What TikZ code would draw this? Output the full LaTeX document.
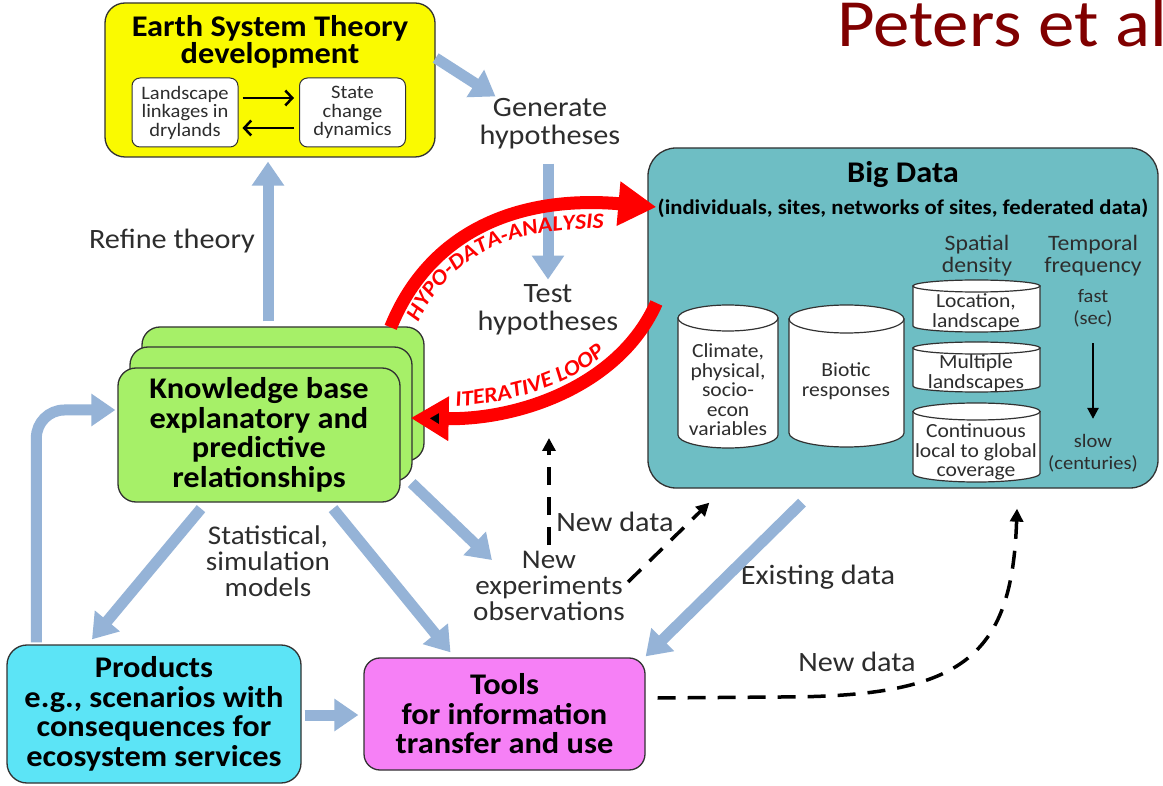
\documentclass[tikz,border=0pt]{standalone}
\usepackage{fontspec}
\setmainfont{Carlito}[FakeStretch=1.08]
\usetikzlibrary{arrows.meta,decorations.text,calc}

\definecolor{ylw}{RGB}{250,250,0}
\definecolor{bdteal}{RGB}{110,190,196}
\definecolor{kbgreen}{RGB}{166,240,104}
\definecolor{prodcyan}{RGB}{92,228,246}
\definecolor{toolpink}{RGB}{246,128,246}
\definecolor{flowblue}{RGB}{149,179,215}
\definecolor{loopred}{RGB}{255,0,0}
\definecolor{authred}{RGB}{128,0,0}
\definecolor{edge}{RGB}{50,50,50}
\definecolor{labelgray}{RGB}{45,45,45}

\newcommand\loopfont{\bfseries\itshape\fontsize{22}{22}\selectfont}

% drum (cylinder) outline: left, right, top, bottom, half height of the end ellipse
\newcommand\drawdrum[5]{%
  \pgfmathsetmacro\drumcx{(#1+#2)/2}%
  \pgfmathsetmacro\drumrx{(#2-#1)/2}%
  \filldraw[drum] (#1,#3+#5) -- (#1,#4-#5)
     .. controls (#1,#4-#5+0.5523*#5) and (\drumcx-0.5523*\drumrx,#4) .. (\drumcx,#4)
     .. controls (\drumcx+0.5523*\drumrx,#4) and (#2,#4-#5+0.5523*#5) .. (#2,#4-#5)
     -- (#2,#3+#5) -- cycle;
  \filldraw[drum] (\drumcx,#3+#5) ellipse [x radius=\drumrx, y radius=#5];
}

\tikzset{
  box/.style={draw=edge, line width=1.3pt, inner sep=0pt, align=center},
  flow/.style={draw=flowblue, line width=11pt, -{Triangle[length=24pt,width=31pt]}},
  loop/.style={draw=loopred, line width=13pt, -{Triangle[length=38pt,width=42pt]}},
  newdata/.style={draw=black, line width=3.5pt, dash pattern=on 18pt off 12pt,
                  -{Triangle[length=13pt,width=13pt]}},
  pairarrow/.style={draw=black, line width=2.5pt, -{Straight Barb[length=7pt,width=15pt]}},
  lbl/.style={text=labelgray, align=center, inner sep=0pt, font=\fontsize{28}{28}\selectfont},
  drum/.style={draw=edge, fill=white, line width=1.2pt},
  cyltext/.style={align=center, inner sep=0pt, text=labelgray, font=\fontsize{20}{19.5}\selectfont},
}

\begin{document}
\begin{tikzpicture}[x=1pt,y=-1pt]
\useasboundingbox (0,0) rectangle (1163,786);
\fill[white] (0,0) rectangle (1163,786);

% author tag
\node[anchor=base west, text=authred, inner sep=0pt, font=\fontsize{67.5}{67.5}\selectfont]
  (cite) at (837,47) {Peters et al};

% Earth system theory box
\node[box, fill=ylw, rounded corners=20pt, minimum width=330pt, minimum height=154pt] (est) at (270,80) {};
\node[align=center, inner sep=0pt, font=\bfseries\fontsize{30}{27}\selectfont] (esttitle) at (270,42)
  {Earth System Theory\\development};
\node[box, fill=white, line width=1pt, rounded corners=8pt, minimum width=106pt, minimum height=69pt,
      text=labelgray, font=\fontsize{19}{18.5}\selectfont] (lsl) at (185,112.5) {Landscape\\linkages in\\drylands};
\node[box, fill=white, line width=1pt, rounded corners=8pt, minimum width=106pt, minimum height=69pt,
      text=labelgray, font=\fontsize{19}{18.5}\selectfont] (scd) at (352.5,112.5) {State\\change\\dynamics};
\draw[pairarrow] ([xshift=4pt,yshift=14.5pt]lsl.east) -- ([xshift=-5pt,yshift=14.5pt]scd.west);
\draw[pairarrow] ([xshift=-5pt,yshift=-15.5pt]scd.west) -- ([xshift=4pt,yshift=-15.5pt]lsl.east);

% Big Data box
\node[box, fill=bdteal, rounded corners=28pt, minimum width=510pt, minimum height=340pt] (bigdata) at (903,318) {};
\node[inner sep=0pt, font=\bfseries\fontsize{30}{30}\selectfont] (bdtitle) at (903,175) {Big Data};
\node[inner sep=0pt, font=\bfseries\fontsize{21}{21}\selectfont] (bdsub) at (903,208)
  {(individuals, sites, networks of sites, federated data)};
\node[cyltext, font=\fontsize{22}{22}\selectfont] (spatial) at (977,256) {Spatial\\density};
\node[cyltext, font=\fontsize{22}{22}\selectfont] (temporal) at (1093,256) {Temporal\\frequency};

\drawdrum{678}{778}{305}{448}{13}
\drawdrum{789}{904}{305}{447}{14}
\drawdrum{913}{1040}{280}{332}{6}
\drawdrum{913}{1040}{342}{392}{6}
\drawdrum{913}{1040}{403}{482}{8.5}
\node[cyltext] (clim) at (728,390) {Climate,\\physical,\\socio-\\econ\\variables};
\node[cyltext] (biotic) at (846,381) {Biotic\\responses};
\node[cyltext] (loc) at (976,312) {Location,\\landscape};
\node[cyltext] (multi) at (976,373) {Multiple\\landscapes};
\node[cyltext] (cont) at (976,452) {Continuous\\local to global\\coverage};
\node[cyltext, font=\fontsize{19}{22}\selectfont] (fast) at (1093,308) {fast\\(sec)};
\node[cyltext, font=\fontsize{19}{22}\selectfont] (slow) at (1093,453) {slow\\(centuries)};
\draw[draw=black, line width=2.5pt, -{Triangle[length=11pt,width=11pt]}]
  ($(fast.south)+(0,16)$) -- ($(slow.north)+(0,-15)$);

% knowledge base stack
\node[box, fill=kbgreen, rounded corners=18pt, minimum width=282pt, minimum height=134pt] (kbback) at (283,394) {};
\node[box, fill=kbgreen, rounded corners=18pt, minimum width=282pt, minimum height=134pt] (kbmid) at (271,414) {};
\node[box, fill=kbgreen, rounded corners=18pt, minimum width=282pt, minimum height=134pt,
      font=\bfseries\fontsize{30}{29.5}\selectfont] (kb) at (259,435)
  {Knowledge base\\explanatory and\\predictive\\relationships};

% products and tools
\node[box, fill=prodcyan, rounded corners=20pt, minimum width=294pt, minimum height=138pt,
      font=\bfseries\fontsize{30}{29.5}\selectfont] (products) at (154,714)
  {Products\\e.g., scenarios with\\consequences for\\ecosystem services};
\node[box, fill=toolpink, rounded corners=16pt, minimum width=281pt, minimum height=112pt,
      font=\bfseries\fontsize{30}{29.5}\selectfont] (tools) at (504.5,714)
  {Tools\\for information\\transfer and use};

% free labels
\node[lbl] (gen) at (550,124) {Generate\\hypotheses};
\node[lbl] (test) at (548,310) {Test\\hypotheses};
\node[lbl] (refine) at (172,241) {Refine theory};
\node[lbl, font=\fontsize{27}{26}\selectfont] (stat) at (268,561) {Statistical,\\simulation\\models};
\node[lbl, font=\fontsize{27}{26}\selectfont] (newexp) at (549,586) {New\\experiments\\observations};
\node[lbl] (nd1) at (615,522) {New data};
\node[lbl] (exist) at (818,577) {Existing data};
\node[lbl] (nd2) at (857,662) {New data};
\coordinate (testlink) at (549,438);

% blue flows
\draw[flow] ([yshift=22pt]est.east) -- ($(gen.north west)+(16,-2)$);
\draw[flow] ($(gen.south)+(-2,14)$) -- ($(test.north)+(0,-5)$);
\draw[flow] ($(kbback.north)+(-15,-5)$) -- ($(est.south)+(-2,4)$);
\draw[flow, rounded corners=28pt] ($(products.north west)+(30,-2)$) |- ($(kb.west)+(-2,-25)$);
\draw[flow] ($(kb.south)+(-58,6)$) -- ($(products.north)+(-62,-5)$);
\draw[flow] ($(kb.south)+(74,6)$) -- ($(tools.north)+(-54,-5)$);
\draw[flow] ($(kb.east)+(11,48)$) -- ($(newexp.north west)+(19,9)$);
\draw[flow] ($(products.east)+(3,1)$) -- ($(tools.west)+(-5,1)$);
\draw[flow] ($(bigdata.south)+(-101,14)$) -- ($(tools.north east)+(0,-1)$);

% dashed new-data links
\draw[newdata] ($(newexp.north)+(0,-6)$) -- (testlink);
\draw[newdata] ($(newexp.east)+(3,-4)$) -- ($(bigdata.south west)+(62,14)$);
\draw[newdata] ($(tools.east)+(12,-16)$) -- (780,697) .. controls (960,697) and (1012,660) .. ($(bigdata.south)+(114,20)$);

% red loop arrows with their captions (captions follow their own baselines)
\draw[loop] ($(kbback.north east)+(-34,1)$) .. controls (430,230) and (520,195) .. ($(bigdata.west)+(9,-111)$);
\path[decorate, decoration={text along path, text color=loopred,
      text align={left indent=16pt},
      text={|\loopfont|HYPO-DATA-ANALYSIS}}]
  (412,337) .. controls (447,247) and (523,219) .. (655,231);
\draw[loop] ($(bigdata.west)+(9,-15)$) .. controls (620,385) and (520,420) .. ($(kb.east)+(10,-17)$);
\path[decorate, decoration={text along path, text color=loopred,
      text align={left indent=46pt},
      text={|\loopfont|ITERATIVE LOOP}}]
  (410,408) .. controls (518,410) and (612,378) .. (648,299);
\end{tikzpicture}
\end{document}
